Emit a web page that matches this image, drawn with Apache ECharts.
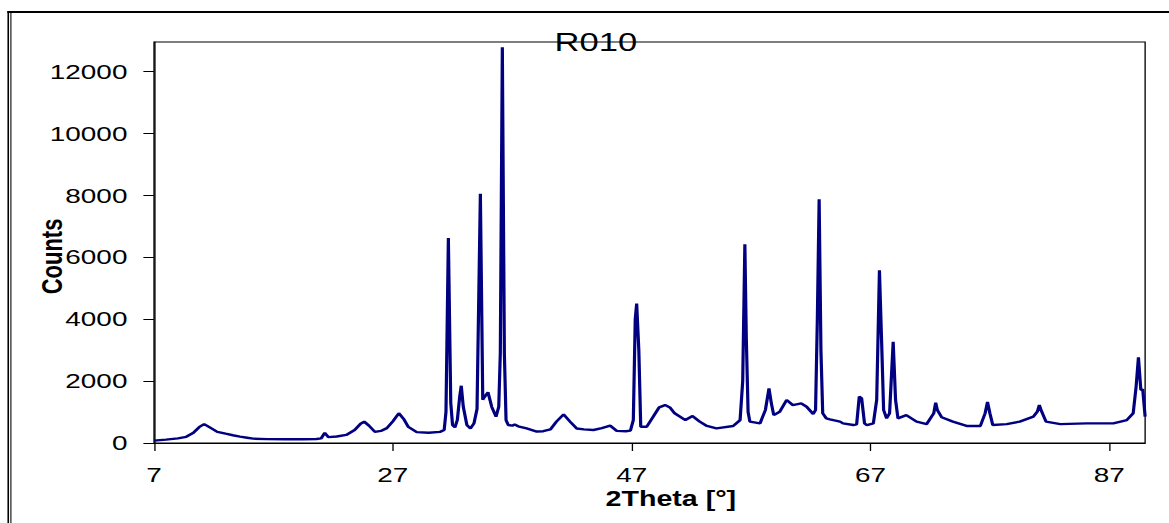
<!DOCTYPE html>
<html><head><meta charset="utf-8">
<script src="https://cdn.jsdelivr.net/npm/echarts@6/dist/echarts.min.js"></script>
<style>
html,body{margin:0;padding:0;background:#fff;overflow:hidden}
#wrap{width:1169px;height:523px;overflow:hidden;position:relative}
#chart{width:879px;height:523px;transform:scaleX(1.33);transform-origin:0 0}
</style></head>
<body><div id="wrap"><div id="chart"></div></div>
<script>
const chartTitle = 'R010';
const xName = '2Theta [°]';
const yName = 'Counts';
const xTicks = [7, 27, 47, 67, 87];
const yTicks = [0, 2000, 4000, 6000, 8000, 10000, 12000];
const twoTheta = [7.0,8.0,9.0,9.7,10.3,10.8,11.2,11.6,12.3,13.0,13.6,14.2,14.8,15.3,16.5,18.0,19.5,20.6,21.0,21.3,21.6,22.3,23.1,23.8,24.3,24.6,25.0,25.5,26.0,26.5,27.0,27.5,27.9,28.3,29.0,30.0,30.95,31.3,31.45,31.65,31.85,32.0,32.2,32.4,32.6,32.73,32.9,33.2,33.5,33.8,34.05,34.33,34.53,34.7,34.97,35.28,35.64,35.87,36.0,36.17,36.34,36.48,36.67,37.0,37.2,37.5,38.2,39.05,39.6,40.2,40.7,41.3,41.84,42.4,43.0,43.8,44.5,45.2,45.75,46.5,46.9,47.14,47.3,47.42,47.6,47.76,48.26,48.8,49.3,49.8,50.2,50.6,51.5,52.1,52.7,53.3,54.1,55.5,56.08,56.3,56.48,56.6,56.75,56.9,57.75,58.2,58.5,58.7,58.9,59.4,59.98,60.5,61.2,61.65,62.2,62.4,62.55,62.7,62.85,63.0,63.3,63.6,64.45,64.7,65.56,65.84,66.06,66.26,66.5,66.7,67.24,67.52,67.75,67.93,68.1,68.35,68.6,68.9,69.1,69.3,70.0,70.86,71.7,72.3,72.46,72.6,72.96,73.9,75.05,76.2,76.6,76.8,77.0,77.24,78.4,79.5,80.64,80.97,81.14,81.34,81.7,82.9,85.1,87.34,88.46,89.0,89.24,89.44,89.64,89.8,90.0];
const counts = [75,110,150,200,330,520,610,520,360,300,250,205,170,140,125,120,120,130,150,330,190,210,260,420,620,690,560,360,390,480,700,960,780,520,350,330,360,420,1000,6620,1300,580,505,740,1500,1850,1170,580,470,640,1100,8050,1400,1500,1640,1170,850,1170,2900,12780,2900,740,580,560,600,540,470,370,380,440,690,925,690,470,440,420,480,560,390,380,400,740,4000,4500,3000,525,525,850,1150,1225,1150,960,740,870,690,550,470,550,740,2000,6420,3400,1000,690,635,1065,1765,1280,900,1010,1390,1225,1280,1170,935,1065,4000,7870,3000,960,795,765,690,635,580,600,1495,1440,635,580,635,1390,5580,3300,1065,795,960,3270,1390,795,900,690,610,960,1300,1065,830,690,550,550,960,1330,960,580,610,690,850,1010,1225,1010,690,610,635,635,740,960,1800,2765,1710,1730,850];

const data = twoTheta.map((x, i) => [x, counts[i]]);
const FONT = '"Liberation Sans", Arial, sans-serif';
const chart = echarts.init(document.getElementById('chart'), null, {renderer: 'svg'});
chart.setOption({
  animation: false,
  backgroundColor: '#fff',
  title: {
    text: chartTitle, left: 412, top: 24,
    textStyle: {fontFamily: FONT, fontSize: 26, fontWeight: 'normal', color: '#000'}
  },
  grid: {left: 115.8, right: 18, top: 42, bottom: 80, show: true, borderColor: '#000', borderWidth: 1,
         backgroundColor: 'transparent', containLabel: false, outerBoundsMode: 'none'},
  graphic: [
    {type: 'line', shape: {x1: 5.5, y1: 12, x2: 879, y2: 12}, style: {stroke: '#000', lineWidth: 2.2}, silent: true},
    {type: 'line', shape: {x1: 6.2, y1: 11, x2: 6.2, y2: 523}, style: {stroke: '#000', lineWidth: 1.2}, silent: true},
    {type: 'line', shape: {x1: 8.2, y1: 12, x2: 8.2, y2: 523}, style: {stroke: '#000', lineWidth: 0.8}, silent: true}
  ],
  xAxis: {
    type: 'value', min: 7, max: 90,
    name: xName, nameLocation: 'middle', nameGap: 44, nameMoveOverlap: false,
    nameTextStyle: {fontFamily: FONT, fontSize: 21.5, fontWeight: 'bold', color: '#000', padding: [0, 0, 0, 32]},
    axisLine: {show: true, lineStyle: {color: '#000', width: 1}},
    axisTick: {show: true, customValues: xTicks, length: 8, lineStyle: {color: '#000'}},
    axisLabel: {customValues: xTicks, margin: 21, fontFamily: FONT, fontSize: 21, color: '#000',
                formatter: v => String(v)},
    splitLine: {show: false}
  },
  yAxis: {
    type: 'value', min: 0, max: 12950,
    name: yName, nameLocation: 'middle', nameRotate: 90, nameGap: 66, nameMoveOverlap: false,
    nameTextStyle: {fontFamily: FONT, fontSize: 22, fontWeight: 'bold', color: '#000', padding: [0, 28, 0, 0]},
    axisLine: {show: true, lineStyle: {color: '#000', width: 1}},
    axisTick: {show: true, customValues: yTicks, length: 8, lineStyle: {color: '#000'}},
    axisLabel: {customValues: yTicks, margin: 20, fontFamily: FONT, fontSize: 21, color: '#000',
                formatter: v => String(v)},
    splitLine: {show: false}
  },
  series: [{
    type: 'line', data: data, showSymbol: false, symbol: 'none',
    lineStyle: {color: '#000080', width: 2.4},
    clip: true
  }]
});
</script></body></html>
